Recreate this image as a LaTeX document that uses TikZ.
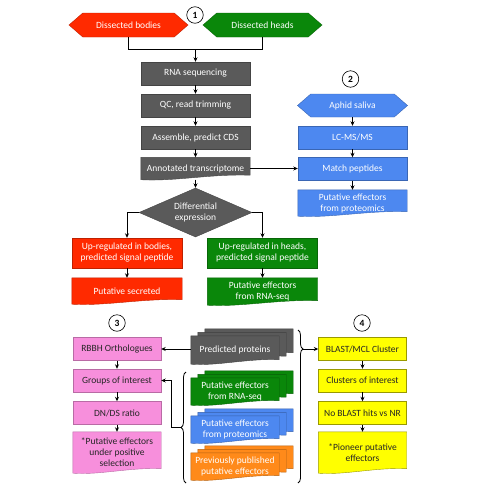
\documentclass[tikz,border=0pt]{standalone}
\usepackage{fontspec}
\setmainfont{Carlito}
\usetikzlibrary{shapes.geometric,shapes.symbols,arrows.meta,calc,backgrounds,decorations.pathreplacing}

\definecolor{cred}{HTML}{FF2A00}
\definecolor{cgreen}{HTML}{0A870A}
\definecolor{cgray}{HTML}{5A5A5A}
\definecolor{cblue}{HTML}{4D88F0}
\definecolor{cpink}{HTML}{F78FDC}
\definecolor{cyellow}{HTML}{FFFF00}
\definecolor{corange}{HTML}{FF8A1A}

% document outline of node #1, shifted by (#2,#3)
\newcommand\docpath[3]{([xshift=#2,yshift=#3]#1.north west) -- ([xshift=#2,yshift=#3]#1.north east) -- ([xshift=#2,yshift=#3+4.5pt]#1.south east) .. controls ($(#1.south west)!0.65!(#1.south east)+(#2,#3+6pt)$) and ($(#1.south west)!0.3!(#1.south east)+(#2,#3-2pt)$) .. ([xshift=#2,yshift=#3]#1.south west) -- cycle}

\tikzset{
  txt/.style={font=\fontsize{9.5}{11}\selectfont, align=center, inner sep=1pt},
  box/.style={txt, rectangle, minimum width=109pt, minimum height=23pt},
  sbox/.style={txt, rectangle, minimum width=88pt, minimum height=23pt},
  hexa/.style={txt, signal, signal to=west and east, signal pointer angle=82, minimum width=119pt, minimum height=24pt},
  circ/.style={circle, draw, fill=white, line width=0.6pt, minimum size=16.5pt, inner sep=0pt, font=\bfseries\fontsize{9.5}{9.5}\selectfont},
  arr/.style={-{Stealth[length=4.5pt,width=4pt]}, line width=0.8pt},
  ln/.style={line width=0.8pt},
  brc/.style={decorate, line width=0.8pt, decoration={brace, amplitude=5pt}},
}

\begin{document}
\begin{tikzpicture}[x=1pt, y=-1pt]
\useasboundingbox (0,0) rectangle (479,485);

% ---------- part 1
\node[circ] (c1) at (195,15) {1};
\node[hexa, fill=cred, draw=cred!75!black, text=white] (bodies) at (128.5,25) {Dissected bodies};
\node[hexa, fill=cgreen, draw=cgreen!75!black, text=white] (heads) at (262.5,25) {Dissected heads};
\node[box, fill=cgray, draw=cgray!75!black, text=white] (rna) at (195.5,73.5) {RNA sequencing};
\node[box, fill=cgray, draw=cgray!75!black, text=white] (qc) at (195.5,105.5) {QC, read trimming};
\node[box, fill=cgray, draw=cgray!75!black, text=white] (asm) at (195.5,137.5) {Assemble, predict CDS};
\node[box, text=white, minimum height=22pt] (ann) at (195.5,168.5) {Annotated transcriptome};
\node[txt, diamond, aspect=2.3, minimum width=113pt, minimum height=49pt, inner sep=0pt, fill=cgray, draw=cgray!75!black, text=white] (diff) at (195.5,212.5) {Differential\\expression};
\node[box, minimum width=110pt, minimum height=30pt, fill=cred, draw=cred!75!black, text=white] (upb) at (127,253) {Up-regulated in bodies,\\predicted signal peptide};
\node[box, minimum width=110pt, minimum height=30pt, fill=cgreen, draw=cgreen!75!black, text=white] (uph) at (262.5,253) {Up-regulated in heads,\\predicted signal peptide};
\node[box, minimum width=110pt, minimum height=26pt, text=white] (sec) at (127,291) {Putative secreted};
\node[box, minimum width=110pt, minimum height=27pt, text=white] (rsq) at (262.5,291.5) {Putative effectors\\from RNA-seq};

% ---------- part 2
\node[circ] (c2) at (350.5,79) {2};
\node[hexa, minimum width=110pt, minimum height=23pt, fill=cblue, draw=cblue!75!black, text=white] (sal) at (352.5,105.5) {Aphid saliva};
\node[box, fill=cblue, draw=cblue!75!black, text=white] (lcms) at (352.5,137.5) {LC-MS/MS};
\node[box, fill=cblue, draw=cblue!75!black, text=white] (match) at (352.5,169) {Match peptides};
\node[box, minimum height=26pt, text=white] (prot) at (352.5,203) {Putative effectors\\from proteomics};

% ---------- part 3 & 4
\node[circ] (c3) at (117,323) {3};
\node[circ] (c4) at (362,323) {4};
\node[sbox, fill=cpink, draw=cpink!75!black, text=black!85] (rbbh) at (117,349) {RBBH Orthologues};
\node[sbox, fill=cpink, draw=cpink!75!black, text=black!85] (goi) at (117,380.5) {Groups of interest};
\node[sbox, fill=cpink, draw=cpink!75!black, text=black!85] (dnds) at (117,413) {DN/DS ratio};
\node[sbox, minimum height=41pt, text=black!85] (pos) at (117,452.5) {*Putative effectors\\under positive\\selection};

\node[sbox, fill=cyellow, draw=cyellow!60!black, text=black!85] (blast) at (362.5,349) {BLAST/MCL Cluster};
\node[sbox, fill=cyellow, draw=cyellow!60!black, text=black!85] (coi) at (362.5,380.5) {Clusters of interest};
\node[sbox, fill=cyellow, draw=cyellow!60!black, text=black!85] (nob) at (362.5,413) {No BLAST hits vs NR};
\node[sbox, minimum height=41pt, text=black!85] (pio) at (362.5,452.5) {*Pioneer putative\\effectors};

\node[sbox, minimum height=28pt, text=white] (pp) at (235,350) {Predicted proteins};
\node[sbox, minimum height=27pt, text=white] (mrs) at (235,391.5) {Putative effectors\\from RNA-seq};
\node[sbox, minimum height=27pt, text=white] (mpr) at (235,429.5) {Putative effectors\\from proteomics};
\node[sbox, minimum height=27pt, text=white] (mpub) at (235,466.5) {Previously published\\putative effectors};

% ---------- document shapes in the background
\begin{scope}[on background layer]
  \filldraw[fill=cgray, draw=cgray!75!black, line width=0.4pt] \docpath{ann}{0pt}{0pt};
  \filldraw[fill=cred, draw=cred!75!black, line width=0.4pt] \docpath{sec}{0pt}{0pt};
  \filldraw[fill=cgreen, draw=cgreen!75!black, line width=0.4pt] \docpath{rsq}{0pt}{0pt};
  \filldraw[fill=cblue, draw=cblue!75!black, line width=0.4pt] \docpath{prot}{0pt}{0pt};
  \filldraw[fill=cpink, draw=cpink!75!black, line width=0.4pt] \docpath{pos}{0pt}{0pt};
  \filldraw[fill=cyellow, draw=cyellow!60!black, line width=0.4pt] \docpath{pio}{0pt}{0pt};
  \foreach \n/\c in {pp/cgray, mrs/cgreen, mpr/cblue, mpub/corange}{
    \filldraw[fill=\c, draw=\c!70!black, line width=0.4pt] \docpath{\n}{14pt}{7pt};
    \filldraw[fill=\c, draw=\c!70!black, line width=0.4pt] \docpath{\n}{7pt}{3.5pt};
    \filldraw[fill=\c, draw=\c!70!black, line width=0.4pt] \docpath{\n}{0pt}{0pt};
  }
\end{scope}

% ---------- connectors
\coordinate (m) at (195.5,49);
\draw[ln] (bodies.south) |- (m);
\draw[ln] (heads.south) |- (m);
\draw[arr] (m) -- (rna.north);
\draw[arr] (rna) -- (qc);
\draw[arr] (qc) -- (asm);
\draw[arr] (asm) -- (ann);
\draw[arr] (ann.south) -- (diff.north);
\draw[arr] (diff.west) -| (upb.north);
\draw[arr] (diff.east) -| (uph.north);
\draw[arr] (upb) -- (sec);
\draw[arr] (uph) -- (rsq);
\draw[arr] (sal) -- (lcms);
\draw[arr] (lcms) -- (match);
\draw[arr] (match) -- (prot);
\draw[arr] (ann.east) -- (ann.east -| match.west);

\draw[arr] (pp.west |- rbbh.east) -- (rbbh.east);
\draw[arr] (rbbh) -- (goi);
\draw[arr] (goi) -- (dnds);
\draw[arr] (dnds) -- (pos);
\draw[arr] (blast) -- (coi);
\draw[arr] (coi) -- (nob);
\draw[arr] (nob) -- (pio);

% braces
\draw[brc, decoration={aspect=0.5}] (186,483) -- (186,372);
\coordinate (lbt) at (181,427.5);
\draw[brc, decoration={aspect=0.124}] (298,330) -- (298,483);
\coordinate (rbt) at (303,349);
\draw[arr] (lbt) -- ++(-10,0) |- (goi.east);
\draw[arr] (rbt) -- (blast.west);
\end{tikzpicture}
\end{document}
